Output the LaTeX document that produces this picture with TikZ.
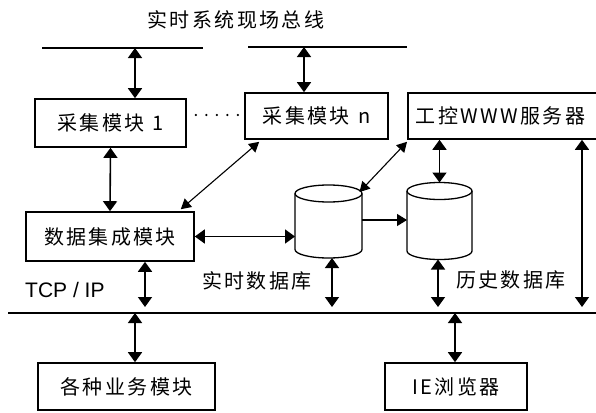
\documentclass[tikz,border=0pt]{standalone}
\usepackage{fontspec}
\setmainfont{Liberation Sans}
\newfontfamily\cjk[LetterSpace=12]{Noto Sans CJK SC}
\usetikzlibrary{arrows.meta}
\begin{document}
\begin{tikzpicture}[x=1pt,y=-1pt,
  box/.style={draw, line width=1.6pt, inner sep=0pt, font=\cjk\fontsize{20}{24}\selectfont},
  lbl/.style={font=\cjk\fontsize{20}{24}\selectfont, inner sep=0pt},
  arr/.style={line width=1.6pt, {Triangle[width=14pt,length=10pt]}-{Triangle[width=14pt,length=10pt]}},
  darr/.style={line width=1.1pt, {Triangle[width=11pt,length=10pt]}-{Triangle[width=11pt,length=10pt]}},
  sarr/.style={line width=1.3pt, -{Triangle[width=12pt,length=10pt]}},
  bus/.style={line width=1.3pt},
  dotline/.style={line width=2.4pt, line cap=round, dash pattern=on 0pt off 10.5pt},
  dbframe/.style={inner sep=0pt, outer sep=0pt},
  dbline/.style={line width=1.3pt, fill=white}
]
\useasboundingbox (0,0) rectangle (596,412);
\clip (0,0) rectangle (596,412);

% title and buses
\node[lbl] (title) at (236,20) {实时系统现场总线};
\coordinate (busLa) at (42,48);
\coordinate (busLb) at (203,48);
\coordinate (busRa) at (248,47);
\coordinate (busRb) at (407,47);
\coordinate (tcpa) at (8,313);
\coordinate (tcpb) at (600,313);
\draw[bus] (busLa) -- (busLb);
\draw[bus] (busRa) -- (busRb);
\draw[bus] (tcpa) -- (tcpb);

% boxes
\node[box, minimum width=151pt, minimum height=48pt] (m1) at (110.5,123) {采集模块\hspace{8pt}1};
\node[box, minimum width=143pt, minimum height=46pt] (mn) at (316.5,116) {采集模块\hspace{8pt}n};
\node[box, anchor=west, minimum width=215pt, minimum height=46pt, text width=199pt, inner xsep=8pt, align=left] (www) at (407,116) {工控WWW服务器};
\node[box, minimum width=168pt, minimum height=49pt] (dsj) at (110,236.5) {数据集成模块};
\node[box, minimum width=177pt, minimum height=47pt] (gb) at (126.5,386.5) {各种业务模块};
\node[box, minimum width=142pt, minimum height=47pt] (ie) at (456,386.5) {IE浏览器};

% databases (cylinders)
\node[dbframe, minimum width=67pt, minimum height=73pt] (c1) at (328.5,221.5) {};
\node[dbframe, minimum width=65pt, minimum height=77pt] (c2) at (439.5,221) {};
\draw[dbline] ([shift={(0,8.5)}]c1.north west) -- ([shift={(0,-8.5)}]c1.south west)
  arc[start angle=180, end angle=360, x radius=33.5pt, y radius=8.5pt]
  -- ([shift={(0,8.5)}]c1.north east);
\draw[dbline] ([shift={(0,8.5)}]c1.north) ellipse [x radius=33.5pt, y radius=8.5pt];
\draw[dbline] ([shift={(0,8.5)}]c2.north west) -- ([shift={(0,-8.5)}]c2.south west)
  arc[start angle=180, end angle=360, x radius=32.5pt, y radius=8.5pt]
  -- ([shift={(0,8.5)}]c2.north east);
\draw[dbline] ([shift={(0,8.5)}]c2.north) ellipse [x radius=32.5pt, y radius=8.5pt];

% labels
\node[font=\fontsize{21}{24}\selectfont, anchor=west, inner sep=0pt] (tcp) at (25,290) {TCP / IP};
\node[lbl] (rtl) at (257,281) {实时数据库};
\node[lbl] (hsl) at (511,280) {历史数据库};

% connectors
\coordinate (t1) at (135,48);
\coordinate (tn) at (304,47);
\coordinate (c1r) at ([shift={(0,-1.5)}]c1.east);
\draw[arr] (t1) -- (t1 |- m1.north);
\draw[arr] (tn) -- (tn |- mn.north);
\draw[arr] (m1.south) -- (dsj.north);
\draw[dotline] ([shift={(9,-8)}]m1.east) -- ([shift={(-5,-1)}]mn.west);
\draw[darr] ([shift={(15,2)}]mn.south west) -- ([shift={(-14,-2)}]dsj.north east);
\draw[darr] ([shift={(0,2)}]www.south west) -- ([shift={(31,7)}]c1.north);
\draw[arr] (c2.north |- www.south) -- (c2.north);
\draw[arr] (dsj.east) -- (c1.west |- dsj.east);
\draw[sarr] (c1r) -- (c2.west |- c1r);

\coordinate (b1) at (145,313);
\coordinate (b2) at (332,313);
\coordinate (b3) at (438,313);
\coordinate (b4) at (582,313);
\coordinate (b5) at (135,313);
\coordinate (b6) at (455,313);
\draw[arr, shorten >=6pt] (b1 |- dsj.south) -- (b1);
\draw[arr, shorten >=6pt] (b2 |- c1.south) -- (b2);
\draw[arr, shorten >=6pt] (b3 |- c2.south) -- (b3);
\draw[arr, shorten >=6pt] (b4 |- www.south) -- (b4);
\draw[arr] (b5) -- (b5 |- gb.north);
\draw[arr] (b6) -- (b6 |- ie.north);
\end{tikzpicture}
\end{document}
